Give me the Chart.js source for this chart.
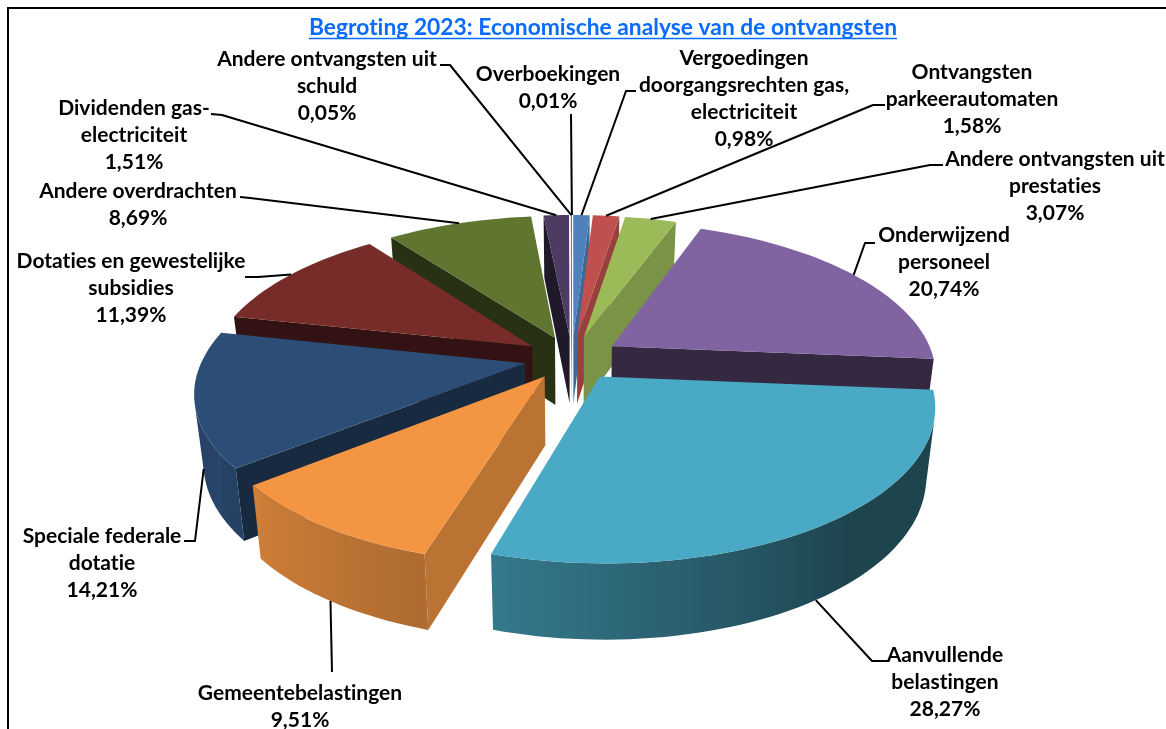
<!DOCTYPE html>
<html>
<head>
<meta charset="utf-8">
<title>Begroting 2023</title>
<script src="https://cdn.jsdelivr.net/npm/chart.js@4"></script>
<style>
    html, body { margin: 0; padding: 0; background: #fff; }
    canvas { display: block; }
</style>
</head>
<body>
<canvas id="pie" width="1166" height="729"></canvas>
<script>
const chartTitle = 'Begroting 2023: Economische analyse van de ontvangsten';
const categories = [
    ['Vergoedingen', 'doorgangsrechten gas,', 'electriciteit'],
    ['Ontvangsten', 'parkeerautomaten'],
    ['Andere ontvangsten uit', 'prestaties'],
    ['Onderwijzend', 'personeel'],
    ['Aanvullende', 'belastingen'],
    ['Gemeentebelastingen'],
    ['Speciale federale', 'dotatie'],
    ['Dotaties en gewestelijke', 'subsidies'],
    ['Andere overdrachten'],
    ['Dividenden gas-', 'electriciteit'],
    ['Andere ontvangsten uit', 'schuld'],
    ['Overboekingen']
];
const values = [0.98, 1.58, 3.07, 20.74, 28.27, 9.51, 14.21, 11.39, 8.69, 1.51, 0.05, 0.01];
const colors = ['#4F81BD', '#C0504D', '#9BBB59', '#8064A2', '#4AA9C4', '#F39543',
    '#2C4D75', '#772C2A', '#5F7530', '#4D3B62', '#2C6A7C', '#B65708'];

// where the label text sits: centre x, y of first line, then the leader's start and elbow
const labelBoxes = [
    { x: 744, y: 58, from: [636, 91], elbow: [626, 91] },
    { x: 972, y: 72, from: [885, 105], elbow: [873, 105] },
    { x: 1055, y: 159, from: [943, 165], elbow: [930, 165] },
    { x: 944, y: 235, from: [875, 243], elbow: [865, 243] },
    { x: 945, y: 655, from: [888, 661], elbow: [872, 661] },
    { x: 300, y: 693, from: [332, 672], elbow: [332, 672] },
    { x: 102, y: 536, from: [184, 541], elbow: [195, 541] },
    { x: 131, y: 261, from: [245, 277], elbow: [258, 277] },
    { x: 138, y: 191, from: [240, 197], elbow: [250, 198] },
    { x: 134, y: 108, from: [211, 114], elbow: [222, 115] },
    { x: 327, y: 59, from: [440, 65], elbow: [450, 65] },
    { x: 548, y: 74, from: [571, 114], elbow: [571, 114] }
];

// view of the tilted disk
const cx = 572, cy = 358, tilt = 0.455, tiltBack = 0.465, persp = 0.00055;
const lineGap = 27;
const labelFont = 'bold 21px Lato';

function project(px, py) {
    const s = 1 / (1 - persp * py);
    return [cx + px * s, cy + py * (py < 0 ? tiltBack : tilt) * s];
}
function drop(p) {
    return [cx + (p[0] - cx) * 0.975, p[1] + 68 + (p[1] - cy) * 0.04];
}
function shade(hex, f) {
    const n = parseInt(hex.slice(1), 16);
    const c = [n >> 16, (n >> 8) & 255, n & 255].map(v => Math.round(v * f));
    return 'rgb(' + c.join(',') + ')';
}
// lighting by angle, degrees clockwise from the top
const rimLight = [[0, 0.6], [90, 0.4], [140, 0.4], [197, 0.72], [231, 0.85], [282, 0.92], [360, 0.8]];
const faceLight = [[0, 0.8], [30, 0.78], [95, 0.41], [197, 0.77], [231, 0.55], [282, 0.42], [360, 0.42]];
function lightAt(table, deg) {
    deg = ((deg % 360) + 360) % 360;
    for (let i = 1; i < table.length; i++) {
        if (deg <= table[i][0]) {
            const a = table[i - 1], b = table[i];
            return a[1] + (b[1] - a[1]) * (deg - a[0]) / (b[0] - a[0]);
        }
    }
    return table[table.length - 1][1];
}
function toDeg(a) {
    return (a + Math.PI / 2) * 180 / Math.PI;
}
function tracePoly(ctx, pts) {
    pts.forEach((p, i) => i ? ctx.lineTo(p[0], p[1]) : ctx.moveTo(p[0], p[1]));
    ctx.closePath();
}
function fillPoly(ctx, pts, fill) {
    ctx.beginPath();
    tracePoly(ctx, pts);
    ctx.fillStyle = fill;
    ctx.fill();
}
// true when the wall hanging under edge a->b (top face wound clockwise) looks at the viewer
function faceVisible(a, b) {
    const q = [a, b, drop(b), drop(a)];
    let area = 0;
    q.forEach((p, i) => {
        const n = q[(i + 1) % 4];
        area += p[0] * n[1] - n[0] * p[1];
    });
    return area < 0;
}

function sliceGeometry(arc) {
    const mid = (arc.startAngle + arc.endAngle) / 2;
    const ox = arc.options.offset * Math.cos(mid);
    const oy = arc.options.offset * Math.sin(mid);
    const at = (a) => project(ox + arc.outerRadius * Math.cos(a), oy + arc.outerRadius * Math.sin(a));
    const rim = [];
    const steps = Math.max(2, Math.ceil((arc.endAngle - arc.startAngle) / 0.03));
    for (let i = 0; i <= steps; i++) {
        const a = arc.startAngle + (arc.endAngle - arc.startAngle) * i / steps;
        rim.push({ a, p: at(a) });
    }
    return { mid, tip: project(ox, oy), rim, midRim: at(mid) };
}

function drawSlice(ctx, arc, color) {
    const g = sliceGeometry(arc);
    const first = g.rim[0].p, last = g.rim[g.rim.length - 1].p;
    // the two cut faces
    if (faceVisible(g.tip, first)) {
        fillPoly(ctx, [g.tip, first, drop(first), drop(g.tip)], shade(color, lightAt(faceLight, toDeg(arc.startAngle))));
    }
    if (faceVisible(last, g.tip)) {
        fillPoly(ctx, [last, g.tip, drop(g.tip), drop(last)], shade(color, lightAt(faceLight, toDeg(arc.endAngle))));
    }
    // outer wall, lit from the left; only the strips that face the viewer
    const xs = g.rim.map(r => r.p[0]);
    const x0 = Math.min(...xs), x1 = Math.max(...xs);
    const grad = ctx.createLinearGradient(x0, 0, x1 + 0.01, 0);
    g.rim.forEach(r => {
        grad.addColorStop((r.p[0] - x0) / (x1 + 0.01 - x0), shade(color, lightAt(rimLight, toDeg(r.a))));
    });
    ctx.beginPath();
    for (let i = 0; i < g.rim.length - 1; i++) {
        const a = g.rim[i].p, b = g.rim[i + 1].p;
        if (faceVisible(a, b)) tracePoly(ctx, [a, b, drop(b), drop(a)]);
    }
    ctx.fillStyle = grad;
    ctx.fill();
    // top face
    fillPoly(ctx, [g.tip].concat(g.rim.map(r => r.p)), color);
}

function formatValue(v) {
    return v.toFixed(2).replace('.', ',') + '%';
}

function drawLabels(ctx, arcs) {
    ctx.strokeStyle = '#000';
    ctx.lineWidth = 2;
    ctx.lineJoin = 'round';
    arcs.forEach((arc, i) => {
        const box = labelBoxes[i];
        const g = sliceGeometry(arc);
        const end = Math.sin(g.mid) > 0 ? drop(g.midRim) : g.midRim;
        ctx.beginPath();
        ctx.moveTo(box.from[0], box.from[1]);
        ctx.lineTo(box.elbow[0], box.elbow[1]);
        ctx.lineTo(end[0], end[1]);
        ctx.stroke();
    });
    ctx.fillStyle = '#000';
    ctx.font = labelFont;
    ctx.textAlign = 'center';
    ctx.textBaseline = 'middle';
    arcs.forEach((arc, i) => {
        const box = labelBoxes[i];
        const lines = categories[i].concat(formatValue(values[i]));
        lines.forEach((t, j) => ctx.fillText(t, box.x, box.y + j * lineGap));
    });
}

const pie3d = {
    id: 'pie3d',
    beforeDraw(chart) {
        const ctx = chart.ctx;
        ctx.letterSpacing = '0.01px'; // keeps Lato's "ti" ligature off
        ctx.save();
        ctx.strokeStyle = '#000';
        ctx.lineWidth = 2;
        ctx.beginPath();
        ctx.moveTo(8, 729);
        ctx.lineTo(8, 8);
        ctx.lineTo(1166, 8);
        ctx.stroke();
        ctx.restore();
    },
    beforeDatasetDraw(chart) {
        const ctx = chart.ctx;
        const arcs = chart.getDatasetMeta(0).data;
        // back to front so nearer slices cover the far ones
        const order = arcs.map((arc, i) => i).sort((a, b) =>
            Math.sin((arcs[a].startAngle + arcs[a].endAngle) / 2) - Math.sin((arcs[b].startAngle + arcs[b].endAngle) / 2));
        ctx.save();
        order.forEach(i => drawSlice(ctx, arcs[i], colors[i]));
        drawLabels(ctx, arcs);
        ctx.restore();
        return false;
    },
    afterDraw(chart) {
        // chart.js titles have no underline
        const ctx = chart.ctx, t = chart.titleBlock;
        ctx.save();
        ctx.font = 'bold 22.8px Lato';
        const w = ctx.measureText(chartTitle).width;
        const mid = (t.left + t.right) / 2;
        ctx.strokeStyle = t.options.color;
        ctx.lineWidth = 1.5;
        ctx.beginPath();
        ctx.moveTo(mid - w / 2, 38.5);
        ctx.lineTo(mid + w / 2, 38.5);
        ctx.stroke();
        ctx.restore();
    }
};

new Chart(document.getElementById('pie'), {
    type: 'pie',
    data: {
        labels: categories,
        datasets: [{ data: values, backgroundColor: colors, offset: 48, borderWidth: 0 }]
    },
    options: {
        responsive: false,
        animation: false,
        radius: 322,
        layout: { padding: { left: 40 } },
        plugins: {
            legend: { display: false },
            tooltip: { enabled: false },
            title: {
                display: true,
                text: chartTitle,
                color: '#0A6CFF',
                font: { family: 'Lato', size: 22.8, weight: 'bold' },
                padding: { top: 14, bottom: 4 }
            }
        }
    },
    plugins: [pie3d]
});
</script>
</body>
</html>
